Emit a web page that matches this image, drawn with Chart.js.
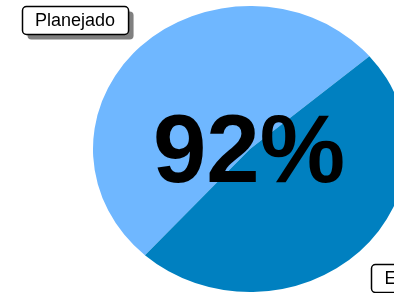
<!DOCTYPE html>
<html>
<head>
<meta charset="utf-8">
<script src="https://cdn.jsdelivr.net/npm/chart.js@4/dist/chart.umd.min.js"></script>
<style>
  html, body { margin: 0; padding: 0; background: #fff; }
  #wrap { position: relative; width: 394px; height: 293px; }
</style>
</head>
<body>
<div id="wrap"><canvas id="pie" width="394" height="293"></canvas></div>
<script>
// values
const categories = ['Planejado', 'Executado'];
const values = [100, 92];
const sliceColors = ['#6FB7FF', '#0080C0'];

const ELLIPSE_X = 1.098; // pie is drawn a bit wider than tall

// stretch the pie horizontally around its own centre
const ellipsePlugin = {
    id: 'ellipse',
    beforeDatasetsDraw(chart) {
        const arc = chart.getDatasetMeta(0).data[0];
        const ctx = chart.ctx;
        ctx.save();
        ctx.translate(arc.x, arc.y);
        ctx.scale(ELLIPSE_X, 1);
        ctx.translate(-arc.x, -arc.y);
    },
    afterDatasetsDraw(chart) {
        chart.ctx.restore();
    }
};

function drawTag(ctx, text, cx, cy) {
    ctx.font = '18px "Liberation Sans", Arial, sans-serif';
    const w = ctx.measureText(text).width + 26;
    const h = 28;
    const x = Math.round(cx - w / 2) + 0.5;
    const y = Math.round(cy - h / 2) + 0.5;
    // shadow
    ctx.fillStyle = '#808080';
    ctx.beginPath();
    ctx.roundRect(x + 5, y + 5, w, h, 4);
    ctx.fill();
    // box
    ctx.fillStyle = '#ffffff';
    ctx.strokeStyle = '#000000';
    ctx.lineWidth = 1.5;
    ctx.beginPath();
    ctx.roundRect(x, y, w, h, 4);
    ctx.fill();
    ctx.stroke();
    ctx.fillStyle = '#000000';
    ctx.textAlign = 'center';
    ctx.textBaseline = 'middle';
    ctx.fillText(text, cx, cy + 1);
}

// centre percentage and the two name tags
const overlayPlugin = {
    id: 'overlay',
    afterDraw(chart) {
        const ctx = chart.ctx;
        const arc = chart.getDatasetMeta(0).data[0];
        const cx = arc.x, cy = arc.y;
        const pct = Math.round(values[1] / values[0] * 100);

        ctx.save();
        ctx.fillStyle = '#000000';
        ctx.font = 'bold 96px "Liberation Sans", Arial, sans-serif';
        ctx.textAlign = 'center';
        ctx.textBaseline = 'alphabetic';
        ctx.fillText(pct + '%', cx - 1, cy + 33);

        drawTag(ctx, categories[0], cx - 175, cy - 129);
        drawTag(ctx, categories[1], cx + 177, cy + 129);
        ctx.restore();
    }
};

new Chart(document.getElementById('pie'), {
    type: 'pie',
    data: {
        labels: categories,
        datasets: [{
            data: values,
            backgroundColor: sliceColors,
            borderWidth: 0,
            clip: false
        }]
    },
    options: {
        responsive: false,
        animation: false,
        rotation: 222,
        layout: { padding: { left: 106, right: 0, top: 6, bottom: 1 } },
        plugins: {
            legend: { display: false },
            tooltip: { enabled: false }
        }
    },
    plugins: [ellipsePlugin, overlayPlugin]
});
</script>
</body>
</html>
